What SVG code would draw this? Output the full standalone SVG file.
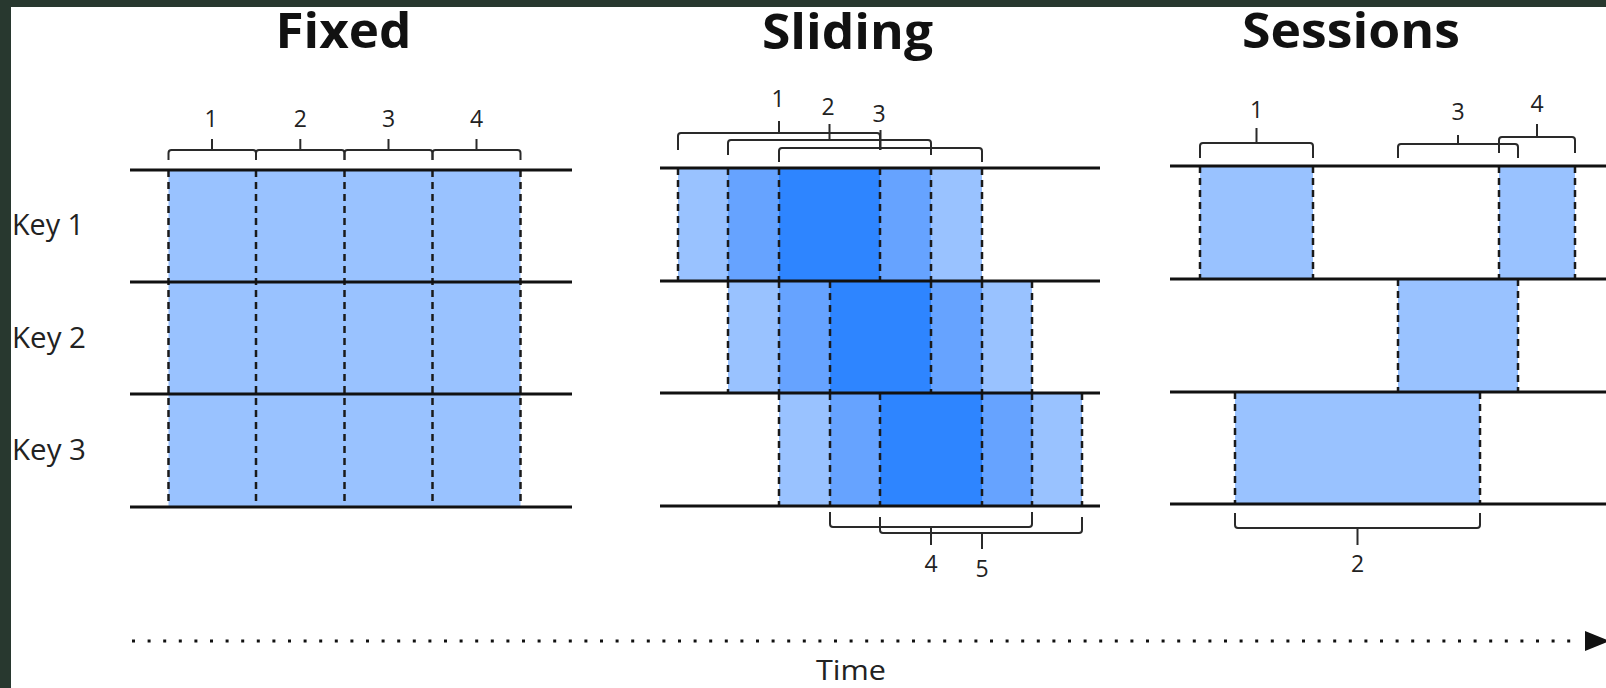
<svg xmlns="http://www.w3.org/2000/svg" width="1606" height="688" viewBox="0 0 1606 688">
<style>
.title{font-family:"Open Sans","Liberation Sans",sans-serif;font-weight:700;font-size:48px;fill:#111;text-anchor:middle}
.key{font-family:"Open Sans","Liberation Sans",sans-serif;font-size:29px;fill:#222}
.num{font-family:"Open Sans","Liberation Sans",sans-serif;font-size:23px;fill:#222;text-anchor:middle}
.time{font-family:"Open Sans","Liberation Sans",sans-serif;font-size:28px;fill:#222;text-anchor:middle}
.hl{stroke:#111;stroke-width:3;fill:none}
.dash{stroke:#1a1a1a;stroke-width:2.5;stroke-dasharray:7 5;fill:none}
.brace{stroke:#2a2a2a;stroke-width:2;fill:none}
.c1{fill:#99c2ff}
.c2{fill:#66a3ff}
.c3{fill:#2e85ff}
</style>
<rect x="0" y="0" width="1606" height="688" fill="#ffffff"/>

<g id="key-labels">
<text class="key" x="12" y="235" textLength="72" lengthAdjust="spacingAndGlyphs">Key 1</text>
<text class="key" x="12" y="348" textLength="74" lengthAdjust="spacingAndGlyphs">Key 2</text>
<text class="key" x="12" y="460" textLength="74" lengthAdjust="spacingAndGlyphs">Key 3</text>
</g>

<g id="fixed">
<text class="title" x="343.5" y="48" textLength="136" lengthAdjust="spacingAndGlyphs">Fixed</text>
<rect class="c1" x="168.5" y="170" width="352" height="337"/>
<path class="dash" d="M168.5,170V507M256,170V507M344.5,170V507M432.5,170V507M520.5,170V507"/>
<path class="hl" d="M130,170H572M130,282H572M130,394H572M130,507H572"/>
<path class="brace" d="M168.5,160V153Q168.5,150 171.5,150H253Q256,150 256,153V160M212,150V139"/>
<path class="brace" d="M256,160V153Q256,150 259,150H341.5Q344.5,150 344.5,153V160M300.3,150V139"/>
<path class="brace" d="M344.5,160V153Q344.5,150 347.5,150H429.5Q432.5,150 432.5,153V160M388.5,150V139"/>
<path class="brace" d="M432.5,160V153Q432.5,150 435.5,150H517.5Q520.5,150 520.5,153V160M476.5,150V139"/>
<text class="num" x="211" y="127">1</text>
<text class="num" x="300.3" y="127">2</text>
<text class="num" x="388.5" y="127">3</text>
<text class="num" x="476.5" y="127">4</text>
</g>

<g id="sliding">
<text class="title" x="847.5" y="49" textLength="171" lengthAdjust="spacingAndGlyphs">Sliding</text>
<rect class="c1" x="678" y="168" width="50" height="113"/>
<rect class="c2" x="728" y="168" width="51" height="113"/>
<rect class="c3" x="779" y="168" width="101" height="113"/>
<rect class="c2" x="880" y="168" width="51" height="113"/>
<rect class="c1" x="931" y="168" width="51" height="113"/>
<rect class="c1" x="728" y="281" width="51" height="112"/>
<rect class="c2" x="779" y="281" width="51" height="112"/>
<rect class="c3" x="830" y="281" width="101" height="112"/>
<rect class="c2" x="931" y="281" width="51" height="112"/>
<rect class="c1" x="982" y="281" width="50" height="112"/>
<rect class="c1" x="779" y="393" width="51" height="113"/>
<rect class="c2" x="830" y="393" width="50" height="113"/>
<rect class="c3" x="880" y="393" width="102" height="113"/>
<rect class="c2" x="982" y="393" width="50" height="113"/>
<rect class="c1" x="1032" y="393" width="50" height="113"/>
<path class="dash" d="M678,168V281M728,168V281M779,168V281M880,168V281M931,168V281M982,168V281"/>
<path class="dash" d="M728,281V393M779,281V393M830,281V393M931,281V393M982,281V393M1032,281V393"/>
<path class="dash" d="M779,393V506M830,393V506M880,393V506M982,393V506M1032,393V506M1082,393V506"/>
<path class="hl" d="M660,168H1100M660,281H1100M660,393H1100M660,506H1100"/>
<path class="brace" d="M678,150V136Q678,133 681,133H877Q880,133 880,136V150M779,133V121"/>
<path class="brace" d="M728,155V143Q728,140 731,140H928Q931,140 931,143V155M829.5,140V124"/>
<path class="brace" d="M779,162V151Q779,148 782,148H979Q982,148 982,151V162M880.5,150V130"/>
<path class="brace" d="M830,512V524Q830,527 833,527H1029Q1032,527 1032,524V512M931,527V545"/>
<path class="brace" d="M880,517V530Q880,533 883,533H1079Q1082,533 1082,530V517M982,533V549"/>
<text class="num" x="778" y="107">1</text>
<text class="num" x="828" y="115">2</text>
<text class="num" x="879" y="122">3</text>
<text class="num" x="931" y="572">4</text>
<text class="num" x="982" y="577">5</text>
</g>

<g id="sessions">
<text class="title" x="1351" y="48" textLength="218" lengthAdjust="spacingAndGlyphs">Sessions</text>
<rect class="c1" x="1200" y="166" width="113" height="113"/>
<rect class="c1" x="1499" y="166" width="76" height="113"/>
<rect class="c1" x="1398" y="279" width="120" height="113"/>
<rect class="c1" x="1235" y="392" width="245" height="112"/>
<path class="dash" d="M1200,166V279M1313,166V279M1499,166V279M1575,166V279"/>
<path class="dash" d="M1398,279V392M1518,279V392"/>
<path class="dash" d="M1235,392V504M1480,392V504"/>
<path class="hl" d="M1170,166H1606M1170,279H1606M1170,392H1606M1170,504H1606"/>
<path class="brace" d="M1200,158V146Q1200,143 1203,143H1310Q1313,143 1313,146V158M1256.5,143V128"/>
<path class="brace" d="M1398,158V147Q1398,144 1401,144H1515Q1518,144 1518,147V158M1458,144V135"/>
<path class="brace" d="M1499,153V140Q1499,137 1502,137H1572Q1575,137 1575,140V153M1537,137V124"/>
<path class="brace" d="M1235,513V525Q1235,528 1238,528H1477Q1480,528 1480,525V513M1357.5,528V545"/>
<text class="num" x="1256.5" y="118">1</text>
<text class="num" x="1458" y="120">3</text>
<text class="num" x="1537" y="112">4</text>
<text class="num" x="1357.5" y="572">2</text>
</g>

<g id="connectors">
<line x1="132" y1="641" x2="1582" y2="641" stroke="#111" stroke-width="3" stroke-dasharray="3 12.6"/>
<polygon points="1585,631 1610,641 1585,651" fill="#111"/>
</g>
<g id="time-label">
<text class="time" x="851" y="680" textLength="70" lengthAdjust="spacingAndGlyphs">Time</text>
</g>

<g id="frame">
<rect x="0" y="0" width="1606" height="7" fill="#28382f"/>
<rect x="0" y="0" width="11" height="688" fill="#28382f"/>
</g>
</svg>
